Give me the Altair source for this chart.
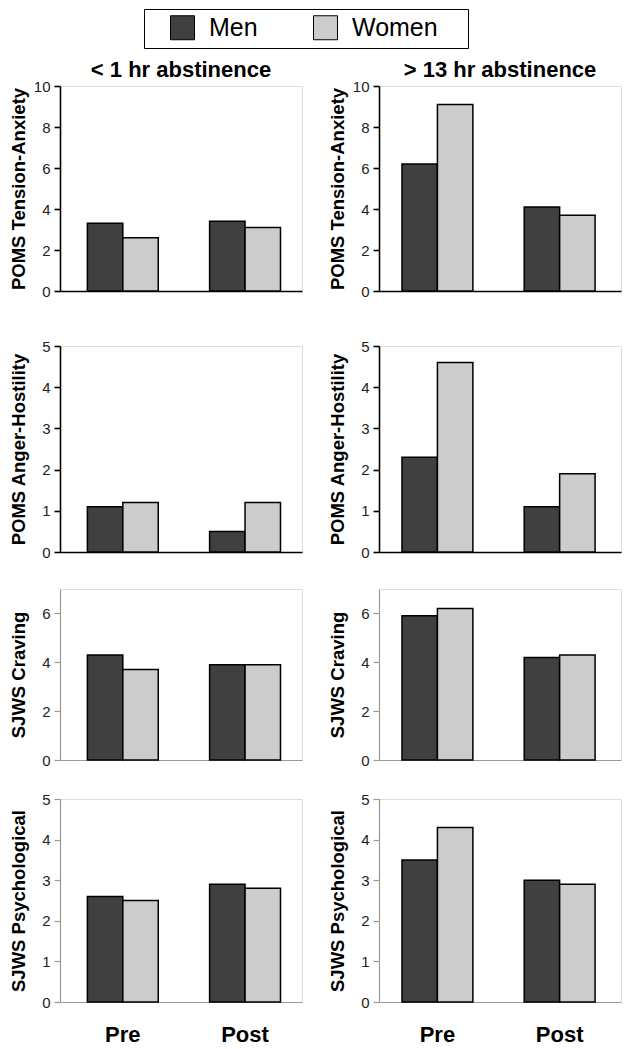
import altair as alt
import pandas as pd

measures = ["POMS Tension-Anxiety", "POMS Anger-Hostility", "SJWS Craving", "SJWS Psychological"]
conditions = ["< 1 hr abstinence", "> 13 hr abstinence"]
times = ["Pre", "Post"]
genders = ["Men", "Women"]

# values per condition: [Men Pre, Women Pre, Men Post, Women Post]
tension_short = [3.3, 2.6, 3.4, 3.1]
tension_long = [6.2, 9.1, 4.1, 3.7]
anger_short = [1.1, 1.2, 0.5, 1.2]
anger_long = [2.3, 4.6, 1.1, 1.9]
craving_short = [4.3, 3.7, 3.9, 3.9]
craving_long = [5.9, 6.2, 4.2, 4.3]
psych_short = [2.6, 2.5, 2.9, 2.8]
psych_long = [3.5, 4.3, 3.0, 2.9]

values = [
    [tension_short, tension_long],
    [anger_short, anger_long],
    [craving_short, craving_long],
    [psych_short, psych_long],
]
y_max = [10, 5, 7, 5]
y_ticks = [[0, 2, 4, 6, 8, 10], [0, 1, 2, 3, 4, 5], [0, 2, 4, 6], [0, 1, 2, 3, 4, 5]]
heights = [205, 206, 171, 203]
PANEL_W = 242
FONT = "Liberation Sans"
NBSP = "\u00a0"


def panel(mi, ci):
    vals = values[mi][ci]
    rows = []
    k = 0
    for t in times:
        for g in genders:
            rows.append({"time": t, "gender": g, "value": vals[k]})
            k += 1
    df = pd.DataFrame(rows)
    dark = mi < 2
    axis_color = "#000000" if dark else "#9a9a9a"
    dom_w = 1.6 if dark else 1.2
    bottom = mi == 3

    x_axis = alt.Axis(
        title=None,
        labels=bottom,
        ticks=False,
        domainColor=axis_color,
        domainWidth=dom_w,
        labelFontSize=22,
        labelFontWeight="bold",
        labelColor="#000000",
        labelPadding=22,
        labelAngle=0,
        labelFont=FONT,
    )
    y_axis = alt.Axis(
        title=measures[mi],
        values=y_ticks[mi],
        grid=False,
        domainColor=axis_color,
        domainWidth=dom_w,
        tickColor=axis_color,
        tickWidth=dom_w,
        tickSize=6,
        labelFontSize=15,
        labelColor="#222222",
        labelPadding=4,
        labelFont=FONT,
        titleFontSize=18.5,
        titleFontWeight="bold",
        titleColor="#000000",
        titleFont=FONT,
        titleX=-32,
    )
    if mi == 0 and ci == 0:
        legend = alt.Legend(
            title=NBSP,
            titleOrient="right",
            titlePadding=24,
            titleFontSize=11,
            orient="none",
            legendX=84,
            legendY=-77,
            direction="horizontal",
            symbolType="square",
            symbolSize=576,
            symbolStrokeColor="#000000",
            symbolStrokeWidth=1,
            symbolOpacity=1,
            symbolOffset=20,
            labelFontSize=25,
            labelFont=FONT,
            labelColor="#000000",
            labelOffset=14,
            columnPadding=35,
            padding=6,
            strokeColor="#000000",
            fillColor="#ffffff",
        )
    else:
        legend = None

    if ci == 0:
        xscale = alt.Scale(paddingInner=0.42, paddingOuter=0.2, align=0.56)
    else:
        xscale = alt.Scale(paddingInner=0.42, paddingOuter=0.2, align=0.47)

    ch = alt.Chart(df).mark_bar(stroke="#000000", strokeWidth=1.5).encode(
        x=alt.X("time:N", sort=times, scale=xscale, axis=x_axis),
        xOffset=alt.XOffset("gender:N", sort=genders, scale=alt.Scale(paddingInner=0, paddingOuter=0)),
        y=alt.Y("value:Q", scale=alt.Scale(domain=[0, y_max[mi]], nice=False), axis=y_axis),
        color=alt.Color("gender:N", sort=genders,
                        scale=alt.Scale(domain=genders, range=["#404040", "#cccccc"]),
                        legend=legend),
    ).properties(width=PANEL_W, height=heights[mi])
    if mi == 0:
        ch = ch.properties(title=alt.TitleParams(conditions[ci], fontSize=22, fontWeight="bold",
                                                 font=FONT, color="#000000", offset=-3))
    return ch


def row(mi):
    return alt.hconcat(panel(mi, 0), panel(mi, 1), spacing=24)


chart = alt.vconcat(
    row(0),
    alt.vconcat(
        row(1),
        alt.vconcat(row(2), row(3), spacing=22),
        spacing=27,
    ),
    spacing=38,
).properties(padding=0).configure_view(stroke=None).configure(font=FONT)

chart.save("out.html", embed_options={"renderer": "svg", "actions": False})
